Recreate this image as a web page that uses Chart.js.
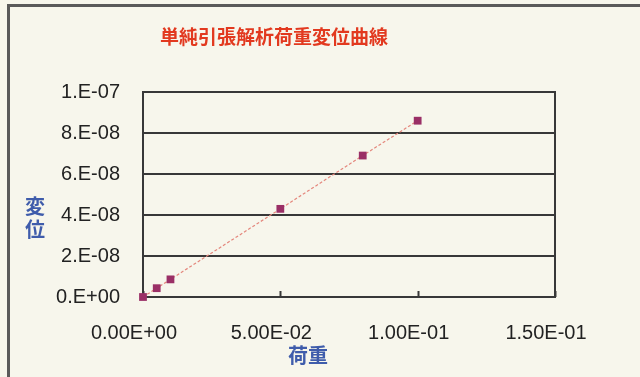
<!DOCTYPE html>
<html>
<head>
<meta charset="utf-8">
<script src="https://cdn.jsdelivr.net/npm/chart.js@4"></script>
<style>
  html, body { margin: 0; padding: 0; background: #f7f6ec; }
  #wrap { width: 640px; height: 377px; }
</style>
</head>
<body>
<div id="wrap"><canvas id="c" width="640" height="377"></canvas></div>
<script>
// Load (荷重) and displacement (変位) from the simple tension analysis
const loads = [0, 0.005, 0.01, 0.05, 0.08, 0.1];
const displacements = [0, 4.3e-9, 8.6e-9, 4.3e-8, 6.9e-8, 8.6e-8];

const xTicks = [0, 0.05, 0.1, 0.15];
const xTickLabels = ['0.00E+00', '5.00E-02', '1.00E-01', '1.50E-01'];
const yTicks = [0, 2e-8, 4e-8, 6e-8, 8e-8, 1e-7];
const yTickLabels = ['0.E+00', '2.E-08', '4.E-08', '6.E-08', '8.E-08', '1.E-07'];

const chartTitle = '単純引張解析荷重変位曲線';
const xTitle = '荷重';
const yTitleChars = ['変', '位'];

const BG = '#f7f6ec';
const INK = '#383838';
const tickFont = { family: 'Liberation Sans, Arial, sans-serif', size: 20 };
const cjk = '"Noto Sans CJK JP", "Noto Sans CJK SC", sans-serif';

const points = loads.map((x, i) => ({ x, y: displacements[i] }));

// Background, outer frame, plot border and inward x tick marks
const framePlugin = {
  id: 'frame',
  beforeDraw(chart) {
    const ctx = chart.ctx;
    ctx.save();
    ctx.fillStyle = BG;
    ctx.fillRect(0, 0, chart.width, chart.height);
    ctx.strokeStyle = '#5a5a5a';
    ctx.lineWidth = 3;
    ctx.strokeRect(8.5, 5.5, chart.width + 20, chart.height + 20);
    ctx.restore();
  },
  beforeDatasetsDraw(chart) {
    const { ctx, chartArea: a, scales } = chart;
    ctx.save();
    ctx.strokeStyle = INK;
    ctx.lineWidth = 2;
    ctx.strokeRect(a.left, a.top, a.right - a.left, a.bottom - a.top);
    xTicks.forEach(v => {
      const px = Math.round(scales.x.getPixelForValue(v)) + 0.5;
      ctx.beginPath();
      ctx.moveTo(px, a.bottom);
      ctx.lineTo(px, a.bottom - 6);
      ctx.stroke();
    });
    ctx.restore();
  },
  afterDraw(chart) {
    const { ctx, chartArea: a } = chart;
    ctx.save();
    ctx.textAlign = 'center';
    ctx.textBaseline = 'middle';
    ctx.fillStyle = '#e2391f';
    ctx.font = 'bold 19px ' + cjk;
    ctx.fillText(chartTitle, 274, 37);
    ctx.fillStyle = '#3f5cab';
    ctx.font = 'bold 20px ' + cjk;
    ctx.fillText(xTitle, (a.left + a.right) / 2 - 41, 355);
    yTitleChars.forEach((ch, i) => ctx.fillText(ch, 35, 206 + i * 23));
    ctx.restore();
  }
};

new Chart(document.getElementById('c'), {
  type: 'scatter',
  data: {
    datasets: [{
      data: points,
      showLine: true,
      clip: false,
      borderColor: '#e4867c',
      borderWidth: 1.2,
      borderDash: [3, 2],
      pointStyle: 'rect',
      pointRadius: 5.5,
      pointBackgroundColor: '#9a2f66',
      pointBorderColor: '#9a2f66',
      pointBorderWidth: 0
    }]
  },
  options: {
    responsive: false,
    animation: false,
    layout: { padding: { top: 92, right: 85, left: 0, bottom: 0 } },
    plugins: { legend: { display: false }, tooltip: { enabled: false }, title: { display: false } },
    scales: {
      x: {
        type: 'linear',
        min: 0,
        max: 0.15,
        afterBuildTicks: s => { s.ticks = xTicks.map(v => ({ value: v })); },
        afterFit: s => { s.height = 80; },
        ticks: {
          callback: (v, i) => xTickLabels[i],
          font: tickFont,
          color: '#222',
          padding: 24,
          labelOffset: -9,
          maxRotation: 0,
          autoSkip: false
        },
        grid: { display: false, drawTicks: false },
        border: { display: false }
      },
      y: {
        type: 'linear',
        min: 0,
        max: 1e-7,
        afterBuildTicks: s => { s.ticks = yTicks.map(v => ({ value: v })); },
        afterFit: s => { s.width = 143; },
        ticks: {
          callback: (v, i) => yTickLabels[i],
          font: tickFont,
          color: '#222',
          padding: 23,
          autoSkip: false
        },
        grid: { color: INK, lineWidth: 2, drawTicks: false },
        border: { display: false }
      }
    }
  },
  plugins: [framePlugin]
});
</script>
</body>
</html>
